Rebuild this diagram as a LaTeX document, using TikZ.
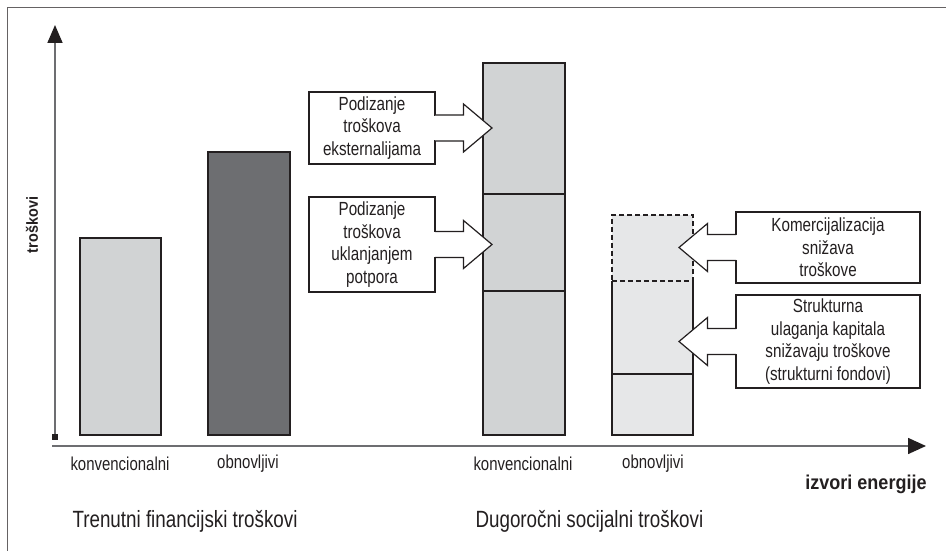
\documentclass[tikz,border=0pt]{standalone}
\usepackage{fontspec}
\setmainfont{Liberation Sans}
\newfontfamily\narrowsf[FakeStretch=0.8]{Liberation Sans}
\newfontfamily\narrowbf[FakeStretch=0.9]{Liberation Sans}
\usetikzlibrary{positioning, calc, arrows.meta}
\definecolor{Ink}{HTML}{231F20}
\definecolor{AxisGray}{HTML}{6D6E71}
\definecolor{BarLight}{HTML}{D1D3D4}
\definecolor{BarPale}{HTML}{E6E7E8}
\definecolor{BarDark}{HTML}{6D6E71}
\tikzset{
    bar/.style={rectangle, draw=Ink, line width=1.2pt, inner sep=0pt, outer sep=0pt, minimum width=82pt},
    notebox/.style={rectangle, draw=Ink, line width=1.2pt, fill=white, align=center, text=Ink, inner sep=0pt, outer sep=0pt, font=\narrowsf\fontsize{19}{22.5}\selectfont},
    outline/.style={draw=Ink, line width=1.2pt, line join=miter},
    axis/.style={draw=AxisGray, line width=1.6pt},
    catlabel/.style={text=Ink, font=\narrowsf\fontsize{18.7}{21}\selectfont},
    grouplabel/.style={text=Ink, anchor=west, font=\narrowsf\fontsize{23.5}{26}\selectfont},
    axislabel/.style={text=Ink, font=\narrowbf\bfseries\fontsize{20}{24}\selectfont},
}
% block arrow from a point on a box edge (#1) to its tip (#2)
\newcommand{\fatarrow}[2]{%
    \coordinate (fa-m) at ($(#1)!0.5!(#2)$);
    \fill[white] ($(#1)+(0,13)$) -- ($(fa-m)+(0,13)$) -- ($(fa-m)+(0,24)$) -- (#2)
        -- ($(fa-m)+(0,-24)$) -- ($(fa-m)+(0,-13)$) -- ($(#1)+(0,-13)$) -- cycle;
    \draw[white, line width=2pt] ($(#1)+(0,12.4)$) -- ($(#1)+(0,-12.4)$);
    \draw[outline] ($(#1)+(0,13)$) -- ($(fa-m)+(0,13)$) -- ($(fa-m)+(0,24)$) -- (#2)
        -- ($(fa-m)+(0,-24)$) -- ($(fa-m)+(0,-13)$) -- ($(#1)+(0,-13)$);
}

\begin{document}
\begin{tikzpicture}[x=1pt, y=1pt]
    \useasboundingbox (0,0) rectangle (946,551);

    % --- Frame (left and top edges only) ---
    \draw[Ink!70, line width=0.8pt] (7,0) -- (7,544) -- (946,544);

    % --- Axes ---
    \coordinate (yfoot) at (55,114);
    \coordinate (ytop)  at (55,526);
    \coordinate (xfoot) at (52,105);
    \coordinate (xtip)  at (926,105);
    \draw[axis, -{Triangle[length=18pt, width=15pt, color=Ink]}] (yfoot) -- (ytop);
    \draw[axis, -{Triangle[length=18pt, width=16pt, color=Ink]}] (xfoot) -- (xtip);
    \fill[Ink] ($(yfoot)+(-3,-3)$) rectangle ($(yfoot)+(3,3)$);

    \node[axislabel, rotate=90, font=\narrowbf\bfseries\fontsize{16}{18}\selectfont] (ylab) at (32,326) {troškovi};
    \node[axislabel] (xlab) at (866,67) {izvori energije};

    % --- Current financial costs ---
    \node[bar, fill=BarLight, minimum width=81pt, minimum height=197pt] (konvA) at (120.5,214.5) {};
    \node[bar, fill=BarDark, minimum height=283pt] (obnA) at (249,257.5) {};

    % --- Long-term social costs: conventional (stacked) ---
    \node[bar, fill=BarLight, minimum height=144pt] (konvB1) at (524,188) {};
    \node[bar, fill=BarLight, minimum height=97pt, above=0pt of konvB1] (konvB2) {};
    \node[bar, fill=BarLight, minimum height=131pt, above=0pt of konvB2] (konvB3) {};
    \draw[outline] (konvB1.north west) -- (konvB1.north east);
    \draw[outline] (konvB2.north west) -- (konvB2.north east);

    % --- Long-term social costs: renewable (stacked, dashed top) ---
    \node[bar, fill=BarPale, minimum width=81pt, minimum height=61pt] (obnB1) at (652.5,146.5) {};
    \node[bar, draw=none, fill=BarPale, minimum width=81pt, minimum height=93pt, above=0pt of obnB1] (obnB2) {};
    \draw[outline] (obnB2.north west) -- (obnB2.south west);
    \draw[outline] (obnB2.north east) -- (obnB2.south east);
    \draw[outline] (obnB1.north west) -- (obnB1.north east);
    \node[bar, fill=BarPale, dashed, dash pattern=on 5pt off 3pt, minimum width=81pt, minimum height=66pt, above=0pt of obnB2] (obnB3) {};

    % --- Category labels ---
    \node[catlabel] (lkonvA) at (120,87) {konvencionalni};
    \node[catlabel] (lobnA)  at (248,87) {obnovljivi};
    \node[catlabel] (lkonvB) at (523,87) {konvencionalni};
    \node[catlabel] (lobnB)  at (653,87) {obnovljivi};

    \node[grouplabel] (grpA) at (69,30) {Trenutni financijski troškovi};
    \node[grouplabel] (grpB) at (472,30) {Dugoročni socijalni troškovi};

    % --- Explanation boxes ---
    \node[notebox, minimum width=126pt, minimum height=72pt] (ext) at (372,423) {Podizanje\\troškova\\eksternalijama};
    \node[notebox, minimum width=126pt, minimum height=95pt] (pot) at (372,306.5) {Podizanje\\troškova\\uklanjanjem\\potpora};
    \node[notebox, minimum width=184pt, minimum height=71pt] (kom) at (828,303.5) {Komercijalizacija\\snižava\\troškove};
    \node[notebox, minimum width=184pt, minimum height=93pt] (fond) at (828,209.5) {Strukturna\\ulaganja kapitala\\snižavaju troškove\\(strukturni fondovi)};

    % --- Block arrows ---
    \fatarrow{ext.east}{$(konvB3.west |- ext.east)+(9,0)$}
    \fatarrow{pot.east}{$(konvB2.west |- pot.east)+(9,0)$}
    \fatarrow{kom.west}{$(obnB3.east |- kom.west)+(-14,0)$}
    \fatarrow{fond.west}{$(obnB2.east |- fond.west)+(-14,0)$}
\end{tikzpicture}
\end{document}
